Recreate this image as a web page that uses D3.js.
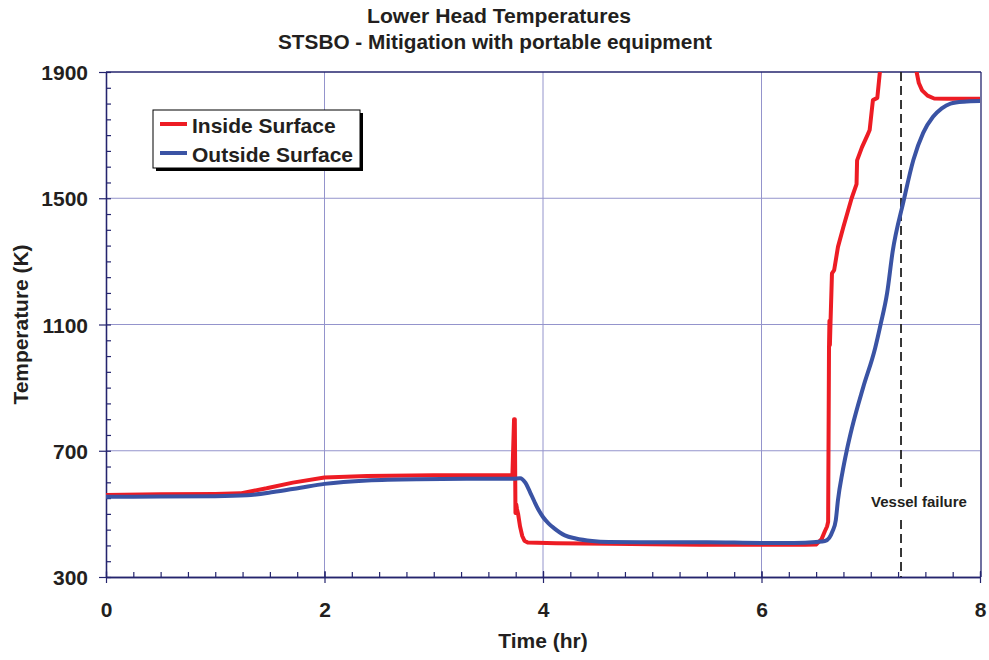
<!DOCTYPE html>
<html>
<head>
<meta charset="utf-8">
<script src="https://cdn.jsdelivr.net/npm/d3@7"></script>
<style>
  html, body { margin: 0; padding: 0; background: #fff; }
  svg { display: block; font-family: "Liberation Sans", Arial, Helvetica, sans-serif; }
</style>
</head>
<body>
<svg id="chart" width="989" height="660"></svg>
<script>
// ---------------- DATA ----------------
const titleLines = ["Lower Head Temperatures", "STSBO - Mitigation with portable equipment"];
const xLabel = "Time (hr)";
const yLabel = "Temperature (K)";
const xTickValues = [0, 2, 4, 6, 8];
const yTickValues = [300, 700, 1100, 1500, 1900];
const seriesNames = ["Inside Surface", "Outside Surface"];
const vesselFailureTime = 7.277;
const vesselFailureLabel = "Vessel failure";

// Inside surface (red)
const insideTime = [0, 0.5, 1.0, 1.23, 1.47, 1.71, 2.0, 2.39, 3.0, 3.5, 3.72, 3.735, 3.742, 3.748, 3.755, 3.762, 3.772, 3.79, 3.81, 3.83, 3.86, 4.12, 4.61, 5.0, 5.44, 6.0, 6.4, 6.5, 6.55, 6.58, 6.6, 6.61, 6.618, 6.622, 6.626, 6.632, 6.645, 6.665, 6.70, 6.75, 6.825, 6.87, 6.875, 6.92, 6.97, 6.99, 7.01, 7.02, 7.06, 7.085, 7.15, 7.25, 7.35, 7.42, 7.44, 7.47, 7.52, 7.58, 7.7, 8.0];
const insideTemp = [560, 562, 563, 565, 581, 599, 615, 620, 622, 622, 622, 800, 800, 503, 530, 515, 500, 460, 430, 415, 409, 407, 405, 404, 402, 402, 402, 403, 420, 445, 460, 475, 1030, 1112, 1035, 1110, 1262, 1272, 1346, 1410, 1500, 1545, 1620, 1662, 1700, 1716, 1780, 1811, 1818, 1905, 2050, 2100, 2050, 1900, 1865, 1842, 1825, 1816, 1815, 1815];

// Outside surface (blue)
const outsideTime = [0, 0.5, 1.0, 1.29, 1.53, 1.78, 2.0, 2.39, 2.85, 3.3, 3.73, 3.79, 3.84, 3.88, 3.92, 3.96, 4.0, 4.05, 4.1, 4.2, 4.3, 4.45, 4.6, 5.0, 5.5, 6.0, 6.3, 6.5, 6.58, 6.62, 6.65, 6.68, 6.70, 6.74, 6.78, 6.83, 6.93, 7.04, 7.09, 7.15, 7.2, 7.3, 7.39, 7.48, 7.57, 7.65, 7.73, 7.85, 8.0];
const outsideTemp = [554, 555, 556, 559, 569, 583, 595, 606, 610, 611, 611, 613, 598, 570, 540, 512, 490, 470, 455, 432, 422, 414, 411, 410, 410, 408, 408, 411, 414, 424, 445, 480, 544, 630, 700, 775, 900, 1025, 1100, 1200, 1330, 1490, 1621, 1707, 1758, 1785, 1800, 1806, 1808];

// ---------------- LAYOUT ----------------
const svg = d3.select("#chart");
const M = { left: 106, right: 980, top: 72, bottom: 577 };
const red = "#ed1c24", blue = "#3a53a4", axisColor = "#24246e", gridColor = "#9494cc", textColor = "#231f20";

const x = d3.scaleLinear().domain([0, 8]).range([M.left, M.right]);
const y = d3.scaleLinear().domain([300, 1900]).range([M.bottom, M.top]);

// clip
svg.append("defs").append("clipPath").attr("id", "plotclip")
  .append("rect").attr("x", M.left).attr("y", M.top)
  .attr("width", M.right - M.left).attr("height", M.bottom - M.top);

// grid
const grid = svg.append("g");
grid.selectAll("line.gx").data(xTickValues.slice(1, -1)).join("line")
  .attr("x1", d => x(d)).attr("x2", d => x(d)).attr("y1", M.top).attr("y2", M.bottom)
  .attr("stroke", gridColor).attr("stroke-width", 1);
grid.selectAll("line.gy").data(yTickValues.slice(1, -1)).join("line")
  .attr("y1", d => y(d)).attr("y2", d => y(d)).attr("x1", M.left).attr("x2", M.right)
  .attr("stroke", gridColor).attr("stroke-width", 1);

// frame top/right
svg.append("line").attr("x1", M.left).attr("x2", M.right + 1).attr("y1", M.top).attr("y2", M.top)
  .attr("stroke", axisColor).attr("stroke-width", 1.3);
svg.append("line").attr("x1", M.right + 1).attr("x2", M.right + 1).attr("y1", M.top).attr("y2", M.bottom)
  .attr("stroke", axisColor).attr("stroke-width", 1.3);

// x axis minor ticks (inside)
const xMinor = svg.append("g").attr("transform", `translate(0,${M.bottom})`)
  .call(d3.axisBottom(x).tickValues(d3.range(0, 8.001, 0.25)).tickSize(-5).tickSizeOuter(0).tickFormat(""));
// x axis major ticks crossing + labels
const xMajor = svg.append("g").attr("transform", `translate(0,${M.bottom})`)
  .call(d3.axisBottom(x).tickValues(xTickValues).tickSize(6).tickSizeOuter(0).tickFormat(d3.format("d")));
xMajor.selectAll(".tick line").attr("y1", -6).attr("y2", 6);
xMajor.selectAll(".tick text").attr("y", 39.5).attr("dy", 0)
  .attr("font-size", 21).attr("font-weight", "bold").attr("fill", textColor);

// y axis minor ticks (inside)
const yMinor = svg.append("g").attr("transform", `translate(${M.left},0)`)
  .call(d3.axisLeft(y).tickValues(d3.range(300, 1900.1, 50)).tickSize(-5).tickSizeOuter(0).tickFormat(""));
const yMajor = svg.append("g").attr("transform", `translate(${M.left},0)`)
  .call(d3.axisLeft(y).tickValues(yTickValues).tickSize(7).tickSizeOuter(0).tickFormat(d3.format("d")));
yMajor.selectAll(".tick line").attr("x1", -7).attr("x2", 0);
yMajor.selectAll(".tick text").attr("x", -18).attr("dy", "0.36em")
  .attr("font-size", 21).attr("font-weight", "bold").attr("fill", textColor);

[xMinor, xMajor, yMinor, yMajor].forEach(g => {
  g.selectAll("path.domain").attr("stroke", axisColor).attr("stroke-width", 1.3);
  g.selectAll(".tick line").attr("stroke", axisColor).attr("stroke-width", 1.2);
});

// vessel failure line
svg.append("line").attr("x1", x(vesselFailureTime)).attr("x2", x(vesselFailureTime))
  .attr("y1", M.top).attr("y2", M.bottom)
  .attr("stroke", "#222").attr("stroke-width", 1.8).attr("stroke-dasharray", "9,5");

// data lines
const line = d3.line().x(d => x(d[0])).y(d => y(d[1]));
const plot = svg.append("g").attr("clip-path", "url(#plotclip)");
const insideData = insideTime.map((t, i) => [t, insideTemp[i]]);
const outsideData = outsideTime.map((t, i) => [t, outsideTemp[i]]);
plot.append("path").datum(insideData).attr("d", line)
  .attr("fill", "none").attr("stroke", red).attr("stroke-width", 4).attr("stroke-linejoin", "round");
plot.append("path").datum(outsideData).attr("d", d3.line().curve(d3.curveMonotoneX).x(d => x(d[0])).y(d => y(d[1])))
  .attr("fill", "none").attr("stroke", blue).attr("stroke-width", 4).attr("stroke-linejoin", "round");

// vessel failure label
const vf = svg.append("g");
vf.append("rect").attr("x", 868).attr("y", 491).attr("width", 102).attr("height", 25).attr("fill", "#fff");
vf.append("text").attr("x", 919).attr("y", 507).attr("text-anchor", "middle")
  .attr("font-size", 15).attr("font-weight", "bold").attr("fill", textColor).text(vesselFailureLabel);

// legend
const lg = svg.append("g");
lg.append("rect").attr("x", 156).attr("y", 113).attr("width", 207).attr("height", 58).attr("fill", "#000");
lg.append("rect").attr("x", 153).attr("y", 110).attr("width", 207).attr("height", 58)
  .attr("fill", "#fff").attr("stroke", "#000").attr("stroke-width", 1);
const legendColors = [red, blue];
seriesNames.forEach((name, i) => {
  const yy = 124 + i * 29;
  lg.append("line").attr("x1", 160).attr("x2", 187).attr("y1", yy).attr("y2", yy)
    .attr("stroke", legendColors[i]).attr("stroke-width", 4);
  lg.append("text").attr("x", 192).attr("y", yy + 9).attr("font-size", 21).attr("font-weight", "bold")
    .attr("fill", textColor).text(name);
});

// titles
svg.append("text").attr("x", 499).attr("y", 22.5).attr("text-anchor", "middle")
  .attr("font-size", 20).attr("font-weight", "bold").attr("fill", textColor)
  .attr("textLength", 264).attr("lengthAdjust", "spacingAndGlyphs").text(titleLines[0]);
svg.append("text").attr("x", 495).attr("y", 48.5).attr("text-anchor", "middle")
  .attr("font-size", 20).attr("font-weight", "bold").attr("fill", textColor)
  .attr("textLength", 434).attr("lengthAdjust", "spacingAndGlyphs").text(titleLines[1]);

svg.append("text").attr("x", 543).attr("y", 648).attr("text-anchor", "middle")
  .attr("font-size", 21).attr("font-weight", "bold").attr("fill", textColor).text(xLabel);
svg.append("text").attr("transform", `translate(28,${(M.top + M.bottom) / 2}) rotate(-90)`)
  .attr("text-anchor", "middle")
  .attr("font-size", 21).attr("font-weight", "bold").attr("fill", textColor)
  .attr("textLength", 160).attr("lengthAdjust", "spacingAndGlyphs").text(yLabel);
</script>
</body>
</html>
